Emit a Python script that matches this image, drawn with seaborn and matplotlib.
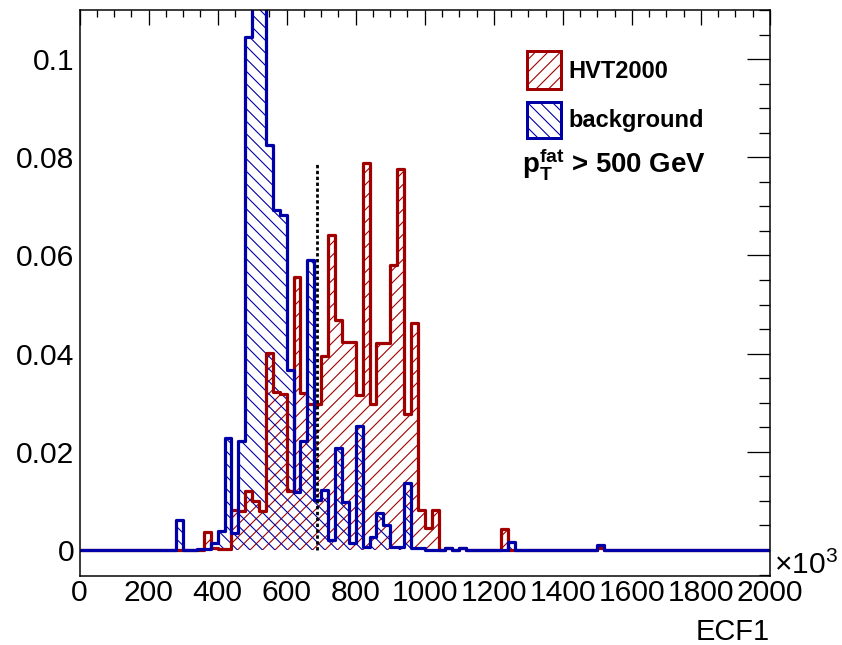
import numpy as np
import matplotlib
matplotlib.use("Agg")
import matplotlib.pyplot as plt
from matplotlib.patches import Rectangle
from matplotlib.ticker import MultipleLocator, FixedLocator, FixedFormatter
import seaborn as sns

# ---------------------------------------------------------------------------
# ECF1 histograms: 100 bins of width 20 (units of 10^3) between 0 and 2000,
# each normalised to unit area.  Only non-empty bins are listed.
# ---------------------------------------------------------------------------
bin_edges = list(range(0, 2001, 20))

sig_bins = [18, 19, 20, 21, 22, 23, 24, 25, 26, 27, 28, 29, 30, 31, 32, 33,
            34, 35, 36, 37, 38, 39, 40, 41, 42, 43, 44, 45, 46, 47, 48, 49,
            50, 51, 53, 55, 61, 75]
sig_vals = [0.0036, 0.0004, 0.0003, 0.0003, 0.0082, 0.0080, 0.0120, 0.0100,
            0.0080, 0.0401, 0.0321, 0.0318, 0.0120, 0.0557, 0.0319, 0.0298,
            0.0297, 0.0395, 0.0641, 0.0469, 0.0424, 0.0424, 0.0316, 0.0789,
            0.0298, 0.0421, 0.0421, 0.0580, 0.0777, 0.0278, 0.0462, 0.0082,
            0.0044, 0.0082, 0.0005, 0.0005, 0.0042, 0.0004]

bkg_bins = [14, 17, 18, 19, 20, 21, 22, 23, 24, 25, 26, 27, 28, 29, 30, 31,
            32, 33, 34, 35, 36, 37, 38, 39, 40, 41, 42, 43, 44, 45, 46, 47,
            48, 49, 53, 55, 62, 75]
bkg_vals = [0.0061, 0.0003, 0.0003, 0.0014, 0.0039, 0.0228, 0.0035, 0.0221,
            0.1046, 0.1920, 0.1760, 0.0825, 0.0692, 0.0683, 0.0367, 0.0119,
            0.0221, 0.0591, 0.0102, 0.0122, 0.0020, 0.0207, 0.0098, 0.0014,
            0.0253, 0.0007, 0.0027, 0.0075, 0.0051, 0.0007, 0.0007, 0.0136,
            0.0005, 0.0005, 0.0005, 0.0005, 0.0017, 0.0010]

series_labels = ["HVT2000", "background"]
cut_value = 688
cut_height = 0.079

x_ticks = [0, 200, 400, 600, 800, 1000, 1200, 1400, 1600, 1800, 2000]
x_tick_labels = [str(v) for v in x_ticks]
y_ticks = [0, 0.02, 0.04, 0.06, 0.08, 0.1]
y_tick_labels = ["0", "0.02", "0.04", "0.06", "0.08", "0.1"]

# ---------------------------------------------------------------------------
# Style
# ---------------------------------------------------------------------------
W, H, DPI = 842, 645, 150
PX = 72.0 / DPI          # points per pixel

RED = "#a00000"
BLUE = "#0000a8"
SIG_HATCH = "////"
BKG_HATCH = "\\\\\\\\"

sns.set_style("white")
plt.rcParams["font.family"] = ["Liberation Sans", "DejaVu Sans"]
plt.rcParams["mathtext.fontset"] = "custom"
plt.rcParams["mathtext.rm"] = "Liberation Sans"
plt.rcParams["mathtext.it"] = "Liberation Sans:italic"
plt.rcParams["mathtext.bf"] = "Liberation Sans:bold"
plt.rcParams["hatch.linewidth"] = 1.1 * PX
plt.rcParams["text.color"] = "black"
plt.rcParams["axes.labelcolor"] = "black"
plt.rcParams["xtick.color"] = "black"
plt.rcParams["ytick.color"] = "black"


def fig_xy(px, py):
    """Pixel position (from top-left) to figure fraction."""
    return px / W, 1 - py / H


fig = plt.figure(figsize=(W / DPI, H / DPI), dpi=DPI)
fig.patch.set_facecolor("white")
left, bottom = fig_xy(79.5, 576)
right, top = fig_xy(770, 10)
ax = fig.add_axes([left, bottom, right - left, top - bottom])

centers = np.array(bin_edges[:-1]) + 10
sig = np.zeros(len(centers))
sig[sig_bins] = sig_vals
bkg = np.zeros(len(centers))
bkg[bkg_bins] = bkg_vals

# hatched fills first, then the outlines on top
for vals, color, hatch in [(sig, RED, SIG_HATCH), (bkg, BLUE, BKG_HATCH)]:
    sns.histplot(x=centers, weights=vals, bins=bin_edges, element="step",
                 fill=True, color=color, facecolor="none", edgecolor=color,
                 hatch=hatch, linewidth=0, ax=ax)
for vals, color in [(sig, RED), (bkg, BLUE)]:
    sns.histplot(x=centers, weights=vals, bins=bin_edges, element="step",
                 fill=False, color=color, linewidth=3.2 * PX, ax=ax)

# cut position
ax.plot([cut_value, cut_value], [0, cut_height], color="black",
        linewidth=2.8 * PX, linestyle=(0, (1.2, 0.9)))

ax.set_xlim(0, 2000)
ax.set_ylim(-0.0053, 0.110)
ax.set_xlabel("")
ax.set_ylabel("")

ax.xaxis.set_major_locator(FixedLocator(x_ticks))
ax.xaxis.set_major_formatter(FixedFormatter(x_tick_labels))
ax.xaxis.set_minor_locator(MultipleLocator(50))
ax.yaxis.set_major_locator(FixedLocator(y_ticks))
ax.yaxis.set_major_formatter(FixedFormatter(y_tick_labels))
ax.yaxis.set_minor_locator(MultipleLocator(0.005))

tick_font = 30 * PX
ax.tick_params(which="both", direction="in", top=True, right=True,
               width=1.3 * PX, color="black", labelcolor="black")
ax.tick_params(axis="x", which="major", length=15 * PX, labelsize=tick_font,
               pad=1.5)
ax.tick_params(axis="x", which="minor", length=7 * PX)
ax.tick_params(axis="y", which="major", length=23 * PX, labelsize=tick_font,
               pad=2.5)
ax.tick_params(axis="y", which="minor", length=11 * PX)
for sp in ax.spines.values():
    sp.set_linewidth(1.5 * PX)
    sp.set_color("black")

# axis decorations
fig.text(*fig_xy(774, 574), r"×10$^{3}$", fontsize=30 * PX,
         ha="left", va="baseline", color="black")
fig.text(*fig_xy(770, 640), "ECF1", fontsize=29 * PX,
         ha="right", va="baseline", color="black")

# legend
for (y0, y1), color, hatch, label, ty in [((51, 89), RED, SIG_HATCH, series_labels[0], 78.5),
                                          ((102, 138), BLUE, BKG_HATCH, series_labels[1], 127)]:
    x0f, y1f = fig_xy(527, y1)
    x1f, y0f = fig_xy(561, y0)
    fig.patches.append(Rectangle((x0f, y1f), x1f - x0f, y0f - y1f,
                                 transform=fig.transFigure, facecolor="none",
                                 edgecolor=color, hatch=hatch,
                                 linewidth=3 * PX, figure=fig))
    fig.text(*fig_xy(568, ty), label, fontsize=23.6 * PX, fontweight="bold",
             ha="left", va="baseline", color="black")

fig.text(*fig_xy(522, 173),
         r"$\mathbf{p}_{\mathbf{T}}^{\mathbf{fat}}$ > 500 GeV",
         fontsize=27.7 * PX, fontweight="bold", ha="left", va="baseline",
         color="black")

fig.savefig("out.png", dpi=DPI)
